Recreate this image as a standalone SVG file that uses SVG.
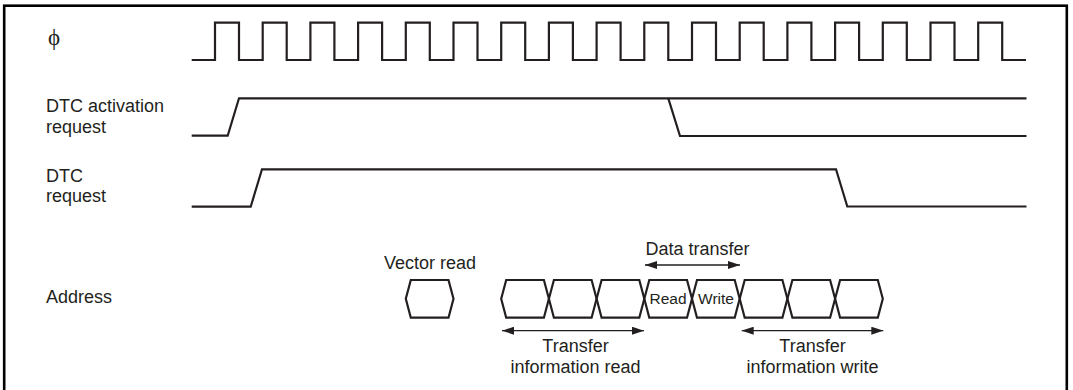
<svg xmlns="http://www.w3.org/2000/svg" width="1073" height="390" viewBox="0 0 1073 390">
<style>
.t{font-family:"Liberation Sans",Arial,sans-serif;font-size:18px;fill:#231f20}
.s{font-family:"Liberation Sans",Arial,sans-serif;font-size:15.5px;fill:#231f20}
.w{fill:none;stroke:#231f20;stroke-width:2.2;stroke-linejoin:miter}
.a{fill:none;stroke:#231f20;stroke-width:1.3}
</style>
<defs>
<marker id="ah" viewBox="0 0 12 8" refX="12" refY="4" markerWidth="12" markerHeight="8" markerUnits="userSpaceOnUse" orient="auto-start-reverse">
<path d="M0,0 L12,4 L0,8 Z" fill="#231f20"/>
</marker>
</defs>
<rect x="0" y="0" width="1073" height="390" fill="#fff"/>
<rect x="4.2" y="5.7" width="1062.6" height="400" fill="none" stroke="#000" stroke-width="2.6"/>

<g id="clock">
<text x="54" y="45" text-anchor="middle" style="font-family:'Liberation Serif','Times New Roman',serif;font-size:23px;fill:#231f20">ϕ</text>
<path class="w" d="M191.7,60 H215 V22.7 H239 V60 H262.7 V22.7 H286.7 V60 H310.4 V22.7 H334.4 V60 H358.1 V22.7 H382.1 V60 H405.8 V22.7 H429.8 V60 H453.5 V22.7 H477.5 V60 H501.2 V22.7 H525.2 V60 H548.9 V22.7 H572.9 V60 H596.6 V22.7 H620.6 V60 H644.3 V22.7 H668.3 V60 H692 V22.7 H716 V60 H739.7 V22.7 H763.7 V60 H787.4 V22.7 H811.4 V60 H835.1 V22.7 H859.1 V60 H882.8 V22.7 H906.8 V60 H930.5 V22.7 H954.5 V60 H978.2 V22.7 H1002.2 V60 H1026"/>
</g>

<g id="dtc-activation-request">
<text class="t" x="46" y="112.3">DTC activation</text>
<text class="t" x="46" y="133.3">request</text>
<path class="w" d="M191.7,135.7 H227.7 L239,98.3 H1026.5"/>
<path class="w" d="M668.3,98.3 L680,136 H1026.5"/>
</g>

<g id="dtc-request">
<text class="t" x="46" y="181.5">DTC</text>
<text class="t" x="46" y="202">request</text>
<path class="w" d="M191.7,206.7 H250.7 L262,169.3 H836 L847.3,206.5 H1026.5"/>
</g>

<g id="address">
<text class="t" x="46" y="303.3">Address</text>
</g>

<g id="vector-read">
<text class="t" x="430" y="269.3" text-anchor="middle">Vector read</text>
<path class="w" d="M405.8,298.8 L410.8,280 H448.5 L453.5,298.8 L448.5,317.7 H410.8 Z"/>
</g>

<g id="transfer-info-read">
<path class="w" d="M501.2,298.8 L506.2,280 H543.9 L548.9,298.8 L543.9,317.7 H506.2 Z"/>
<path class="w" d="M548.9,298.8 L553.9,280 H591.6 L596.6,298.8 L591.6,317.7 H553.9 Z"/>
<path class="w" d="M596.6,298.8 L601.6,280 H639.3 L644.3,298.8 L639.3,317.7 H601.6 Z"/>
<text class="t" x="575.5" y="351.7" text-anchor="middle">Transfer</text>
<text class="t" x="575.5" y="373.3" text-anchor="middle">information read</text>
</g>

<g id="data-read">
<path class="w" d="M644.3,298.8 L649.3,280 H687 L692,298.8 L687,317.7 H649.3 Z"/>
<text class="s" x="668" y="304" text-anchor="middle">Read</text>
</g>

<g id="data-write">
<path class="w" d="M692,298.8 L697,280 H734.7 L739.7,298.8 L734.7,317.7 H697 Z"/>
<text class="s" x="716" y="304" text-anchor="middle">Write</text>
</g>

<g id="data-transfer-label">
<text class="t" x="697.5" y="255" text-anchor="middle">Data transfer</text>
</g>

<g id="transfer-info-write">
<path class="w" d="M739.7,298.8 L744.7,280 H782.4 L787.4,298.8 L782.4,317.7 H744.7 Z"/>
<path class="w" d="M787.4,298.8 L792.4,280 H830.1 L835.1,298.8 L830.1,317.7 H792.4 Z"/>
<path class="w" d="M835.1,298.8 L840.1,280 H877.8 L882.8,298.8 L877.8,317.7 H840.1 Z"/>
<text class="t" x="812.5" y="351.7" text-anchor="middle">Transfer</text>
<text class="t" x="812.5" y="373.3" text-anchor="middle">information write</text>
</g>

<g id="connectors">
<line class="a" x1="645" y1="265" x2="740" y2="265" marker-start="url(#ah)" marker-end="url(#ah)"/>
<line class="a" x1="502" y1="330.7" x2="644" y2="330.7" marker-start="url(#ah)" marker-end="url(#ah)"/>
<line class="a" x1="741.7" y1="330.7" x2="883.3" y2="330.7" marker-start="url(#ah)" marker-end="url(#ah)"/>
</g>
</svg>
